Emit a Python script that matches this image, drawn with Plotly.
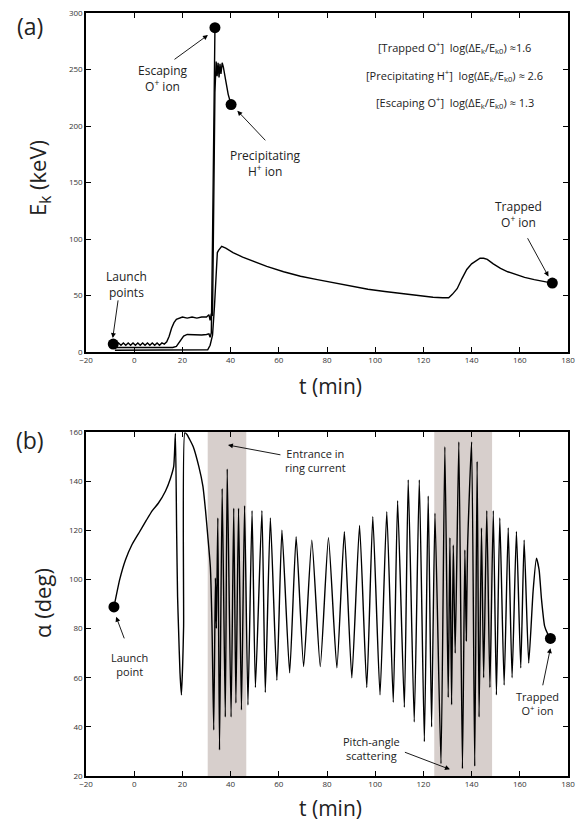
import plotly.graph_objects as go

# ---------------- Panel (a): kinetic energy (keV) vs time (min) ----------------
h_t = [-8.7, -7.5, -6.5, -5.5, -4.5, -3.5, -2.5, -1.5, -0.5, 0.5,
       1.5, 2.5, 3.5, 4.5, 5.5, 6.5, 7.5, 8.5, 9.5, 10.5,
       11.5, 12.5, 13.5, 14.5, 15.5, 16.5, 17.5, 18.5, 20, 22,
       24, 26, 28, 30, 31, 31.5, 32, 32.5, 33, 33.5,
       34, 34.4, 34.8, 35.2, 35.6, 36, 36.5, 37, 38, 39, 40.2]
h_e = [7, 6, 8, 6, 8, 6, 8, 6, 8, 6,
       8, 6, 8, 6, 8, 6, 8, 6, 8, 6,
       8, 7, 9, 14, 21, 26, 29, 30, 31, 30,
       31, 30, 31, 31, 33, 28, 34, 32, 120, 230,
       257, 244, 256, 243, 255, 246, 256, 252, 240, 228, 219]

esc_t = [-8, 0, 10, 16, 17.5, 19, 20.5, 22, 25, 28, 30, 31, 31.5, 32, 32.5, 33.5]
esc_e = [4, 4, 4, 4, 5, 10, 14, 15.5, 15, 15, 15.5, 16, 13, 17, 100, 287]

trap_t = [-8, 0, 10, 20, 29, 30.5, 31.5, 32.5, 33.3, 34,
          34.5, 35, 36.3, 38, 41, 45, 50, 55, 62, 69,
          76, 83, 90, 97, 104, 110, 117, 124, 128, 130.5,
          132, 134, 136, 138, 140, 142, 143.5, 145, 146.5, 149,
          152, 155, 159, 162, 166, 170, 173.5]
trap_e = [1.5, 1.5, 1.5, 1.5, 1.5, 2, 6, 15, 40, 65,
          88, 90, 93.5, 92, 88, 84, 80, 75.7, 71, 67,
          64, 61, 58, 55.5, 53.5, 52, 50, 48.5, 48, 48,
          51, 56, 65, 73, 78, 81, 83, 83, 82, 78,
          74, 71, 68, 66, 64, 62.5, 61]

dots_a_t = [-8.7, 33.5, 40.2, 173.5]
dots_a_e = [7, 287, 219, 61]

# ---------------- Panel (b): pitch angle (deg) vs time (min) ----------------
al_t = [-8.4, -6, -3.6, -1, 2, 5, 7.5, 10, 13, 15,
        16.4, 17.1, 17.6, 18, 18.4, 19, 19.6, 20.1, 20.5, 21,
        21.9, 23, 24.5, 26.8, 28.5, 29.6, 30.5, 31.6, 32.3, 33.0,
        33.7, 34.1, 34.7, 35.4, 36.5, 37.8, 38.6, 40.2, 41.3, 42.2,
        43.3, 44.5, 45.8, 47.2, 48.9, 50.3, 53, 54.4, 56.5, 59.2,
        61.3, 64.5, 67.2, 70.3, 73.7, 77.2, 80.6, 84.1, 87.2, 90.3,
        93.5, 96.5, 99, 102, 104.8, 107.5, 109.3, 112.1, 113.7, 116.2,
        118.3, 120.4, 122, 123.4, 124.8, 127.3, 128.9, 130.3, 131, 131.7,
        132.4, 133.2, 134.7, 136.2, 137.2, 137.8, 138.3, 140, 141.3, 142.3,
        143.1, 144.1, 145, 146.3, 147.6, 149, 150.3, 151.7, 153.5, 155.2,
        156.8, 158.6, 160.4, 161.8, 163.7, 165.5, 166.9, 168, 169, 170.3,
        171.5, 172.7]
al_a = [88.8, 100, 108, 114, 119, 124, 128, 131, 136, 141,
        146, 159.5, 120, 93, 80, 62, 53, 65, 81, 159.6,
        159, 157, 154, 146, 138, 128, 118, 105, 80, 38.7,
        100.6, 80, 125, 30.6, 137, 44, 145, 44, 129, 49.7,
        129, 46.9, 130, 48.9, 128, 56, 128, 54, 125, 59,
        120, 62, 117.4, 64.5, 116, 64.5, 117, 64, 119.4, 60,
        122, 56, 125.5, 53, 127.6, 50, 132, 48, 140.5, 42,
        140.5, 34, 134, 40, 127, 25, 154, 52, 117, 49,
        114, 70, 156, 23, 112, 75, 112, 156, 24, 148,
        44, 121, 60, 128, 56, 128, 53, 125, 57, 121,
        60, 119.5, 64, 116, 66, 95, 108.6, 104, 92, 81,
        78, 76]

dots_b_t = [-8.4, 172.7]
dots_b_a = [88.8, 76]

shade_ranges = [(30.5, 46.5), (124.5, 148.5)]

x_ticks = [-20, 0, 20, 40, 60, 80, 100, 120, 140, 160, 180]
ya_ticks = [0, 50, 100, 150, 200, 250, 300]
yb_ticks = [20, 40, 60, 80, 100, 120, 140, 160]

assert len(h_t) == len(h_e) and len(esc_t) == len(esc_e)
assert len(trap_t) == len(trap_e) and len(al_t) == len(al_a)

FONT = "Open Sans"
fig = go.Figure()
line = dict(color="black", width=1.4)

for tx, ty in [(h_t, h_e), (esc_t, esc_e), (trap_t, trap_e)]:
    fig.add_trace(go.Scatter(x=tx, y=ty, mode="lines", line=line,
                             xaxis="x", yaxis="y", showlegend=False))
fig.add_trace(go.Scatter(x=dots_a_t, y=dots_a_e, mode="markers",
                         marker=dict(color="black", size=11), cliponaxis=False,
                         xaxis="x", yaxis="y", showlegend=False))

fig.add_trace(go.Scatter(x=al_t, y=al_a, mode="lines",
                         line=dict(color="black", width=1.4, shape="spline", smoothing=0.5),
                         xaxis="x2", yaxis="y2", showlegend=False))
fig.add_trace(go.Scatter(x=dots_b_t, y=dots_b_a, mode="markers",
                         marker=dict(color="black", size=11), cliponaxis=False,
                         xaxis="x2", yaxis="y2", showlegend=False))

shapes = []
for x0, x1 in shade_ranges:
    shapes.append(dict(type="rect", xref="x2", yref="y2 domain", x0=x0, x1=x1,
                       y0=0, y1=1, fillcolor="#d7cfcc", line=dict(width=0),
                       layer="below"))

ax_common = dict(showgrid=False, zeroline=False, showline=True, linecolor="black",
                 linewidth=1.5, mirror="ticks", ticks="inside", ticklen=5,
                 tickcolor="black", tickwidth=1, automargin=False,
                 ticklabeloverflow="allow",
                 tickfont=dict(family=FONT, size=8, color="#333"))

# page has an 8px body margin: figure is placed at (8, 8) in the window
OFF = 8
W, H = 574, 815
ml, mr, mt, mb = 86 - OFF, W - (568 - OFF), 13 - OFF, H - (776 - OFF)
ph = H - mt - mb
pw = W - ml - mr
dom_a = [(776 - 352) / ph, 1.0]
dom_b = [0.0, (776 - 432) / ph]

fig.update_layout(
    width=W, height=H, margin=dict(l=ml, r=mr, t=mt, b=mb),
    paper_bgcolor="white", plot_bgcolor="white",
    font=dict(family=FONT, color="#222"),
    shapes=shapes,
    xaxis=dict(domain=[0, 1], anchor="y", range=[-20, 180], tickvals=x_ticks, **ax_common),
    yaxis=dict(domain=dom_a, anchor="x", range=[0, 300], tickvals=ya_ticks, **ax_common),
    xaxis2=dict(domain=[0, 1], anchor="y2", range=[-20, 180], tickvals=x_ticks, **ax_common),
    yaxis2=dict(domain=dom_b, anchor="x2", range=[20, 160], tickvals=yb_ticks, **ax_common),
)

ann = []
def txt(x, y, s, xref="x", yref="y", size=12, yanchor="middle", **kw):
    ann.append(dict(x=x, y=y, xref=xref, yref=yref, text=s, showarrow=False,
                    xanchor="center", yanchor=yanchor,
                    font=dict(family=FONT, size=size, color="#222"), **kw))

def arrow(x, y, ax, ay, xr="x", yr="y"):
    ann.append(dict(x=x, y=y, ax=ax, ay=ay, xref=xr, yref=yr, axref=xr, ayref=yr,
                    text="", showarrow=True, arrowhead=2, arrowsize=1.1,
                    arrowwidth=0.9, arrowcolor="black", standoff=0))

# panel (a) annotations
txt(12, 242, "Escaping<br>O<sup>+</sup> ion")
arrow(30.6, 280.5, 16.1, 258)
txt(54.3, 167, "Precipitating<br>H<sup>+</sup> ion")
arrow(42.8, 213.5, 55, 186)
txt(-3, 59.5, "Launch<br>points")
arrow(-8.9, 12.4, -6.6, 47)
txt(159.4, 121.6, "Trapped<br>O<sup>+</sup> ion")
arrow(171.9, 66.8, 162.9, 102)
txt(133, 269.5, "[Trapped O<sup>+</sup>]  log(ΔE<sub>k</sub>/E<sub>k0</sub>) ≈1.6", size=11)
txt(133, 245, "[Precipitating H<sup>+</sup>]  log(ΔE<sub>k</sub>/E<sub>k0</sub>) ≈ 2.6", size=11)
txt(133, 220.7, "[Escaping O<sup>+</sup>]  log(ΔE<sub>k</sub>/E<sub>k0</sub>) ≈ 1.3", size=11)

# panel (b) annotations
txt(75.2, 148.6, "Entrance in<br>ring current", xref="x2", yref="y2", size=11)
arrow(38.9, 154.7, 61.3, 150.6, "x2", "y2")
txt(-1.8, 65.2, "Launch<br>point", xref="x2", yref="y2", size=11)
arrow(-7.5, 84.8, -3.9, 75.4, "x2", "y2")
txt(98.5, 31.3, "Pitch-angle<br>scattering", xref="x2", yref="y2", size=11)
arrow(131, 22.7, 111.7, 29.9, "x2", "y2")
txt(167.3, 49.6, "Trapped<br>O<sup>+</sup> ion", xref="x2", yref="y2", size=11)
arrow(172.7, 72, 169.4, 56.3, "x2", "y2")

# panel labels and axis titles (paper coords from window pixels)
def px(xp):
    return (xp - 86) / pw
def py(yp):
    return (776 - yp) / ph

txt(px(30), py(8), "(a)", xref="paper", yref="paper", size=23, yanchor="top")
txt(px(30), py(440), "(b)", xref="paper", yref="paper", size=23)
txt(px(330), py(386), "t (min)", xref="paper", yref="paper", size=21)
txt(px(330), py(808), "t (min)", xref="paper", yref="paper", size=21)
txt(px(39), py(178), "E<sub>k</sub> (keV)", xref="paper", yref="paper", size=22, textangle=-90)
txt(px(42), py(603), "α (deg)", xref="paper", yref="paper", size=22, textangle=-90)

fig.update_layout(annotations=ann)
fig.write_html("out.html")
